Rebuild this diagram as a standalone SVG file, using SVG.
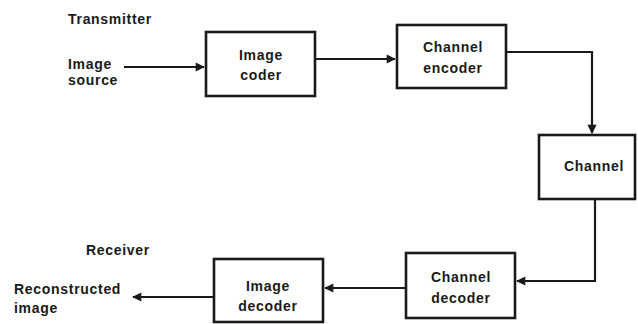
<svg xmlns="http://www.w3.org/2000/svg" width="638" height="324" viewBox="0 0 638 324">
<style>
text{font-family:"Liberation Sans",Arial,sans-serif;font-size:14px;font-weight:bold;fill:#1a1a1a;letter-spacing:0.7px}
.c{text-anchor:middle}
.box{fill:#fff;stroke:#1a1a1a;stroke-width:2.6}
.ln{fill:none;stroke:#1a1a1a;stroke-width:2.2}
</style>
<defs>
<marker id="ah" viewBox="0 0 10 10" refX="9" refY="5" markerWidth="6" markerHeight="4.2" markerUnits="strokeWidth" orient="auto">
<path d="M0,0 L10,5 L0,10 z" fill="#1a1a1a"/>
</marker>
</defs>
<rect width="638" height="324" fill="#fff"/>
<g id="labels">
<text x="68" y="24">Transmitter</text>
<text x="68" y="69">Image</text>
<text x="68" y="85">source</text>
<text x="86" y="255">Receiver</text>
<text x="14" y="294">Reconstructed</text>
<text x="14" y="313">image</text>
</g>
<g id="connectors">
<path class="ln" d="M124 67 H204" marker-end="url(#ah)"/>
<path class="ln" d="M315 59 H395" marker-end="url(#ah)"/>
<path class="ln" d="M506 52 H592 V133" marker-end="url(#ah)"/>
<path class="ln" d="M595 199 V281 H517" marker-end="url(#ah)"/>
<path class="ln" d="M406 288 H325" marker-end="url(#ah)"/>
<path class="ln" d="M214 297 H133" marker-end="url(#ah)"/>
</g>
<g id="image-coder">
<rect class="box" x="206" y="32" width="109" height="64"/>
<text class="c" x="261" y="60">Image</text>
<text class="c" x="261" y="80">coder</text>
</g>
<g id="channel-encoder">
<rect class="box" x="397" y="25" width="109" height="63"/>
<text class="c" x="453" y="52">Channel</text>
<text class="c" x="453" y="73">encoder</text>
</g>
<g id="channel">
<rect class="box" x="539" y="135" width="96" height="64"/>
<text class="c" x="594" y="171">Channel</text>
</g>
<g id="channel-decoder">
<rect class="box" x="406" y="253" width="109" height="65"/>
<text class="c" x="461" y="282">Channel</text>
<text class="c" x="461" y="303">decoder</text>
</g>
<g id="image-decoder">
<rect class="box" x="214" y="259" width="109" height="63"/>
<text class="c" x="268" y="291">Image</text>
<text class="c" x="268" y="311">decoder</text>
</g>
</svg>
